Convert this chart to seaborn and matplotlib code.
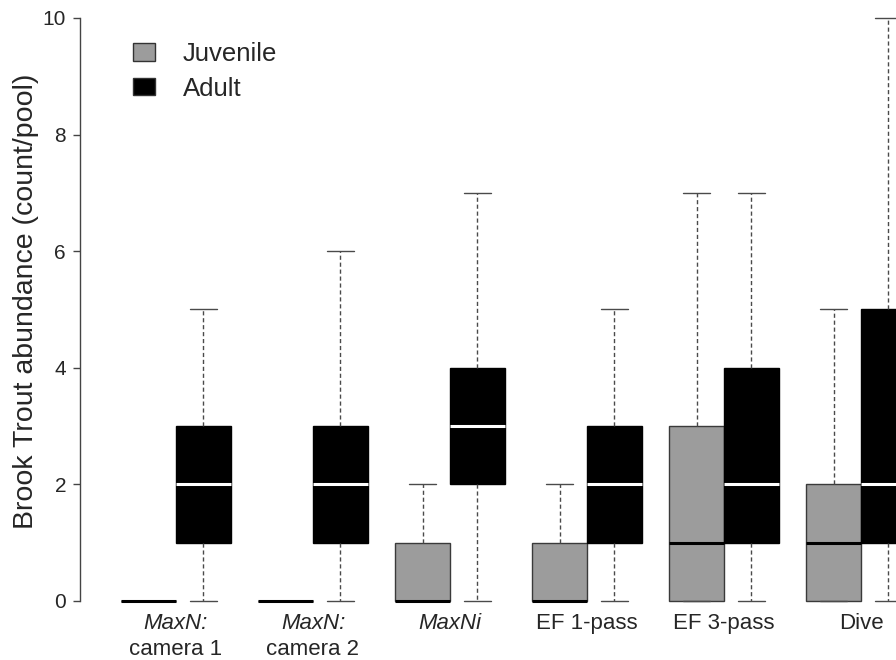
"""Brook Trout abundance by survey method, juvenile vs adult boxplots."""

import matplotlib

matplotlib.use("Agg")

import matplotlib.pyplot as plt
import pandas as pd
import seaborn as sns
from matplotlib.patches import Patch

# five-number summaries: min, q1, median, q3, max
methods = ["cam1", "cam2", "maxni", "ef1", "ef3", "dive"]
stages = ["Juvenile", "Adult"]
juvenile = {
    "cam1": [0, 0, 0, 0, 0],
    "cam2": [0, 0, 0, 0, 0],
    "maxni": [0, 0, 0, 1, 2],
    "ef1": [0, 0, 0, 1, 2],
    "ef3": [0, 0, 1, 3, 7],
    "dive": [0, 0, 1, 2, 5],
}
adult = {
    "cam1": [0, 1, 2, 3, 5],
    "cam2": [0, 1, 2, 3, 6],
    "maxni": [0, 2, 3, 4, 7],
    "ef1": [0, 1, 2, 3, 5],
    "ef3": [0, 1, 2, 4, 7],
    "dive": [0, 1, 2, 5, 10],
}
label_top = ["MaxN:", "MaxN:", "MaxNi", "EF 1-pass", "EF 3-pass", "Dive"]
label_bottom = ["camera 1", "camera 2", "", "", "", ""]
label_italic = [True, True, True, False, False, False]
colors = {"Juvenile": "#9c9c9c", "Adult": "black"}

rows = []
for stage, table in zip(stages, [juvenile, adult]):
    for m in methods:
        for v in table[m]:
            rows.append({"method": m, "stage": stage, "count": v})
df = pd.DataFrame(rows)

sns.set_theme(style="white")
plt.rcParams["font.family"] = ["Liberation Sans", "DejaVu Sans"]

fig = plt.figure(figsize=(8.96, 6.6), dpi=100)
ax = fig.add_axes([80 / 896, 35.7 / 660, 816 / 896, 618 / 660])

sns.boxplot(
    data=df, x="method", y="count", hue="stage",
    order=methods, hue_order=stages, palette=colors,
    width=0.8, gap=0, whis=(0, 100), saturation=1,
    linecolor="#3a3a3a", linewidth=1.0,
    whiskerprops=dict(linestyle=(0, (3, 2)), color="#4a4a4a"),
    capprops=dict(color="#4a4a4a"),
    medianprops=dict(linewidth=2.2, color="black"),
    legend=False, ax=ax,
)

# adult boxes get white medians
for cont, stage in zip(ax.containers, stages):
    if stage == "Adult":
        for med in cont.medians:
            med.set_color("white")
        for box in cont.boxes:
            box.set_edgecolor("black")

ax.set_xlim(-0.70, 5.255)
ax.set_ylim(-0.4, 10.2)
ax.set_yticks([0, 2, 4, 6, 8, 10])
ax.tick_params(axis="y", direction="out", length=5, width=1, color="#444444",
               labelsize=15, left=True, pad=5)
ax.set_ylabel("Brook Trout abundance (count/pool)", fontsize=20.5, labelpad=3)
ax.yaxis.label.set_y(0.522)
ax.set_xlabel("")
ax.set_xticks([])
for side in ["top", "right", "bottom"]:
    ax.spines[side].set_visible(False)
ax.spines["left"].set_bounds(0, 10)
ax.spines["left"].set_color("#444444")
ax.spines["left"].set_linewidth(1)

for i, (top, bot, it) in enumerate(zip(label_top, label_bottom, label_italic)):
    ax.text(i, -0.2, top, ha="center", va="top", fontsize=16,
            style="italic" if it else "normal", clip_on=False)
    if bot:
        ax.text(i, -0.66, bot, ha="center", va="top", fontsize=16, clip_on=False)

handles = [Patch(facecolor=colors[s], edgecolor="#333333", label=s) for s in stages]
fig.legend(
    handles=handles, loc="upper left", bbox_to_anchor=(133 / 896, 618 / 660),
    frameon=False, fontsize=18.5, handlelength=0.86, handleheight=0.66,
    handletextpad=1.09, labelspacing=0.42, borderpad=0, borderaxespad=0,
)

fig.savefig("out.png", dpi=100)
